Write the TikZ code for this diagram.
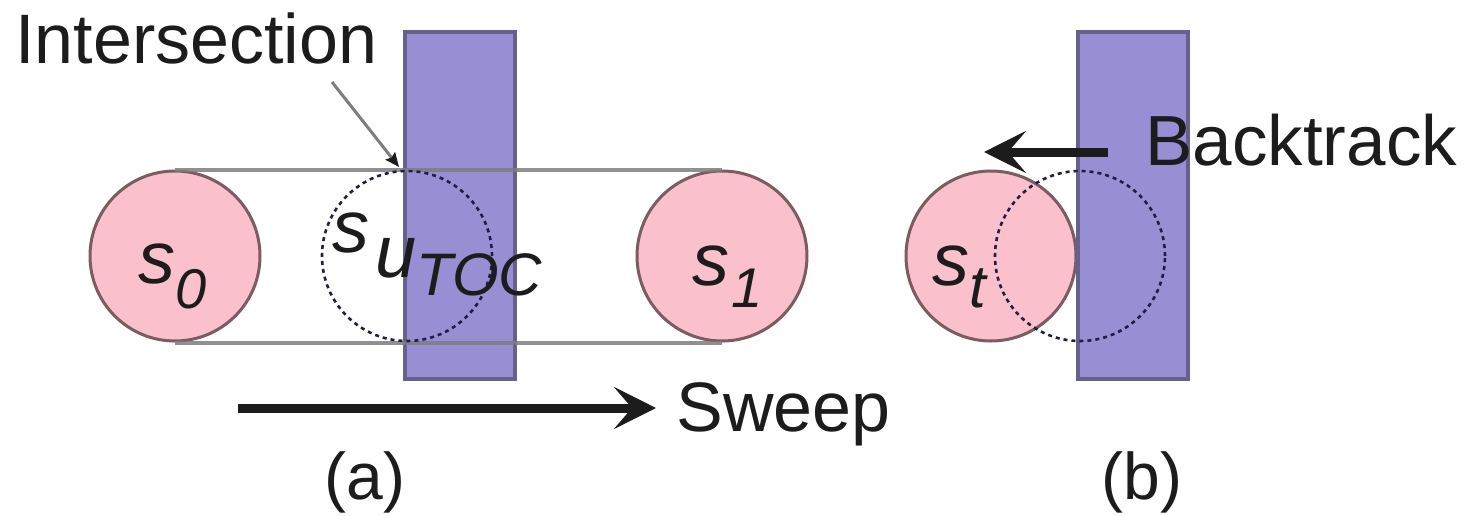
\documentclass[tikz,border=0pt]{standalone}
\usepackage{fontspec}
\setmainfont{Liberation Sans}
\usetikzlibrary{arrows.meta}
\definecolor{pinkfill}{RGB}{250,192,203}
\definecolor{pinkedge}{RGB}{122,92,98}
\definecolor{obst}{RGB}{152,142,212}
\definecolor{obstedge}{RGB}{102,96,140}
\definecolor{railgray}{RGB}{125,125,125}
\definecolor{ink}{RGB}{28,28,28}
\definecolor{ghostink}{RGB}{30,30,70}

\begin{document}
\begin{tikzpicture}[x=0.5pt,y=-0.5pt,
  disc/.style={circle, draw=pinkedge, fill=pinkfill, line width=1.5pt, minimum size=85pt, inner sep=0pt},
  ghost/.style={circle, draw=ghostink, line width=1.3pt, dash pattern=on 2pt off 2pt, minimum size=85pt, inner sep=0pt},
  obstacle/.style={rectangle, draw=obstedge, fill=obst, line width=2pt, minimum width=55pt, minimum height=173.5pt, inner sep=0pt},
  rail/.style={draw=railgray, line width=2pt, draw opacity=0.85},
  txt/.style={inner sep=0pt, text=ink, font=\fontsize{35}{42}\selectfont},
  statelbl/.style={inner sep=0pt, text=ink, anchor=base west, font=\itshape\fontsize{37}{44}\selectfont},
  bigarrow/.style={draw=ink, line width=4.5pt, -{Stealth[length=21pt,width=21pt,inset=9pt]}},
  pointer/.style={draw=railgray, line width=1.5pt, -{Stealth[length=7pt,width=6pt,inset=1pt,color=ink]}}
]
\useasboundingbox (0,0) rectangle (1464,515);

% ---------- (a) sweep ----------
\node[obstacle] (obsA) at (460,205.5) {};
\node[disc] (s0) at (175,256) {};
\node[disc] (s1) at (722,256) {};
\draw[rail] (s0.north) -- (s1.north);
\draw[rail] (s0.south) -- (s1.south);
\node[ghost] (su) at (407,256) {};

\node[statelbl] (s0lbl) at (138,283) {s\raisebox{-12.5pt}{\fontsize{28}{34}\selectfont 0}};
\node[statelbl] (s1lbl) at (692,285) {s\kern1pt\raisebox{-11pt}{\fontsize{28}{34}\selectfont 1}};
\node[statelbl] (sulbl) at (332,252) {s\kern3pt\raisebox{-12.5pt}{u}\raisebox{-21.5pt}{\fontsize{30}{36}\selectfont TOC}};

\node[txt, anchor=base west] (inter) at (15,63) {Intersection};
\coordinate (interfrom) at (332,82);
\coordinate (interto) at (399,167);
\draw[pointer] (interfrom) -- (interto);

\coordinate (sweepfrom) at (238,408);
\coordinate (sweepto) at (656,408);
\draw[bigarrow] (sweepfrom) -- (sweepto);
\node[txt, anchor=base west] (sweep) at (676,431) {Sweep};

\node[txt, anchor=base, font=\fontsize{33}{40}\selectfont] (capa) at (365,499) {(a)};

% ---------- (b) backtrack ----------
\node[disc] (st) at (991,256) {};
\node[obstacle] (obsB) at (1132.5,205.5) {};
\node[ghost] (sc) at (1080,256) {};
\node[statelbl] (stlbl) at (932,285) {s\raisebox{-11pt}{\fontsize{30}{36}\selectfont t}};

\coordinate (btfrom) at (1108,152);
\coordinate (btto) at (984,152);
\draw[bigarrow] (btfrom) -- (btto);
\node[txt, anchor=base west, font=\fontsize{35.5}{42}\selectfont] (bt) at (1145,165) {Backtrack};

\node[txt, anchor=base, font=\fontsize{33}{40}\selectfont] (capb) at (1142,499) {(b)};
\end{tikzpicture}
\end{document}
